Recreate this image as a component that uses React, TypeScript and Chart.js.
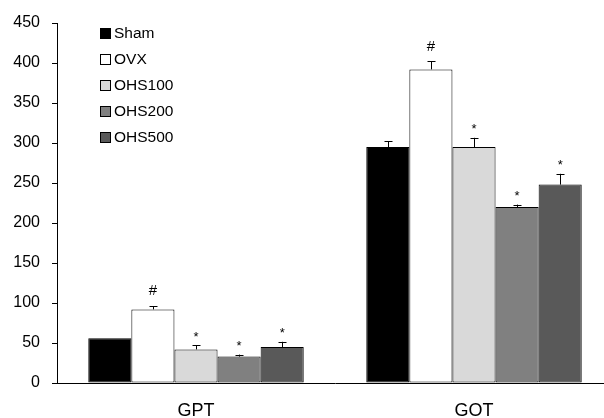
import React, { useEffect, useRef } from "react";
import { Chart, registerables } from "chart.js";

Chart.register(...registerables);

const categories = ["GPT", "GOT"];
const seriesNames = ["Sham", "OVX", "OHS100", "OHS200", "OHS500"];
const seriesColors = ["#000000", "#ffffff", "#d9d9d9", "#808080", "#595959"];
const shamValues = [56, 295];
const ovxValues = [92, 392];
const ohs100Values = [42, 295];
const ohs200Values = [33, 220];
const ohs500Values = [45, 248];
const shamErr = [0, 7.5];
const ovxErr = [4, 10];
const ohs100Err = [5, 11.5];
const ohs200Err = [2.5, 3];
const ohs500Err = [6.5, 13.5];
const markers = ["", "#", "*", "*", "*"];
const yTicks = [0, 50, 100, 150, 200, 250, 300, 350, 400, 450];

const allValues = [shamValues, ovxValues, ohs100Values, ohs200Values, ohs500Values];
const allErrs = [shamErr, ovxErr, ohs100Err, ohs200Err, ohs500Err];

const FONT = "'Liberation Sans', Arial, sans-serif";

const overlayPlugin = {
  id: "overlay",
  afterDatasetsDraw(chart: any) {
    const ctx = chart.ctx;
    const y = chart.scales.y;
    ctx.save();
    chart.data.datasets.forEach((ds: any, di: number) => {
      const meta = chart.getDatasetMeta(di);
      meta.data.forEach((el: any, i: number) => {
        const v = ds.data[i];
        const e = ds.errors[i];
        const top = y.getPixelForValue(v + e);
        const x = Math.round(el.x) + 0.5;
        if (e > 0) {
          ctx.strokeStyle = "#000";
          ctx.lineWidth = 1;
          ctx.beginPath();
          ctx.moveTo(x, el.y);
          ctx.lineTo(x, top);
          ctx.moveTo(x - 4, Math.round(top) + 0.5);
          ctx.lineTo(x + 4, Math.round(top) + 0.5);
          ctx.stroke();
        }
        const m = ds.marker;
        if (m) {
          ctx.fillStyle = "#000";
          ctx.textAlign = "center";
          ctx.textBaseline = "middle";
          if (m === "#") {
            ctx.font = `15px ${FONT}`;
            ctx.fillText(m, el.x, top - 15);
          } else {
            ctx.font = `13px ${FONT}`;
            ctx.fillText(m, el.x, top - 8);
          }
        }
      });
    });
    // legend
    ctx.font = `15.5px ${FONT}`;
    ctx.textAlign = "left";
    ctx.textBaseline = "middle";
    seriesNames.forEach((name, i) => {
      const cy = 33 + i * 26;
      ctx.fillStyle = seriesColors[i];
      ctx.fillRect(100, cy - 5, 10, 10);
      ctx.strokeStyle = "#000";
      ctx.lineWidth = 1;
      ctx.strokeRect(100.5, cy - 4.5, 10, 10);
      ctx.fillStyle = "#000";
      ctx.fillText(name, 114, cy + 1);
    });
    ctx.restore();
  },
};

export default function App() {
  const ref = useRef<HTMLCanvasElement | null>(null);
  useEffect(() => {
    if (!ref.current) return;
    const chart = new Chart(ref.current, {
      type: "bar",
      data: {
        labels: categories,
        datasets: seriesNames.map((name, i) => ({
          label: name,
          data: allValues[i],
          errors: allErrs[i],
          marker: markers[i],
          backgroundColor: seriesColors[i],
          borderColor: "#000000",
          borderWidth: 1,
          borderSkipped: false,
          categoryPercentage: 0.775,
          barPercentage: 1.0,
        })) as any,
      },
      options: {
        animation: false,
        responsive: false,
        devicePixelRatio: 1,
        layout: { padding: { top: 23, right: 0, left: 0, bottom: 0 } },
        plugins: { legend: { display: false }, tooltip: { enabled: false } },
        scales: {
          x: {
            grid: { display: false, drawTicks: false },
            border: { color: "#000", width: 1 },
            ticks: { color: "#000", font: { family: FONT, size: 18 }, padding: 17 },
            afterFit(s: any) {
              s.height = 35;
            },
          },
          y: {
            min: 0,
            max: 450,
            afterBuildTicks(s: any) {
              s.ticks = yTicks.map((v) => ({ value: v }));
            },
            grid: { drawOnChartArea: false, drawTicks: true, tickLength: 5, color: "#000" },
            border: { color: "#000", width: 1 },
            ticks: { color: "#000", font: { family: FONT, size: 16 }, padding: 12 },
            afterFit(s: any) {
              s.width = 57;
            },
          },
        },
      } as any,
      plugins: [overlayPlugin],
    });
    return () => chart.destroy();
  }, []);
  return (
    <div style={{ position: "absolute", left: 0, top: 0, width: 604, height: 418, overflow: "hidden", background: "#fff" }}>
      <canvas ref={ref} width={613} height={418} style={{ display: "block" }} />
    </div>
  );
}
